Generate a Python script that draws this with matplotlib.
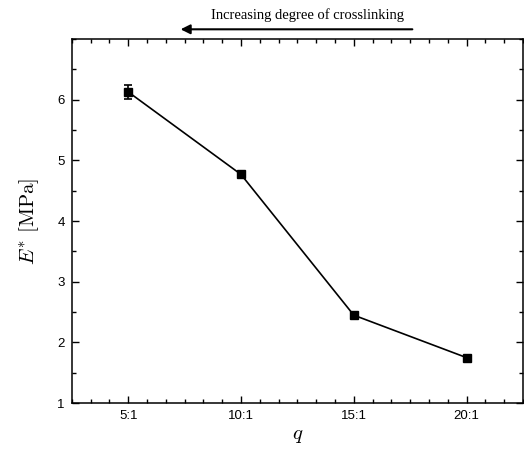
import matplotlib
matplotlib.use("Agg")
import matplotlib.pyplot as plt
from matplotlib.ticker import AutoMinorLocator, MultipleLocator

# data
ratios = ["5:1", "10:1", "15:1", "20:1"]
modulus = [6.13, 4.77, 2.45, 1.75]
modulus_err = [0.11, 0.04, 0.03, 0.03]

plt.rcParams["mathtext.fontset"] = "cm"
plt.rcParams["font.family"] = ["Liberation Sans", "DejaVu Sans"]

fig = plt.figure(figsize=(5.24, 4.55), dpi=100)
ax = fig.add_axes([0.137, 0.114, 0.861, 0.800])

xs = list(range(1, len(ratios) + 1))
ax.errorbar(xs, modulus, yerr=modulus_err, color="black", marker="s", markersize=5.5,
            linewidth=1.2, elinewidth=1.2, capsize=3, capthick=1.2)

ax.set_xlim(0.5, 4.5)
ax.set_ylim(1, 7)
ax.set_xticks(xs)
ax.set_xticklabels(ratios)
ax.set_yticks(range(1, 7))
ax.xaxis.set_minor_locator(AutoMinorLocator(6))
ax.yaxis.set_minor_locator(MultipleLocator(0.5))
ax.tick_params(which="both", direction="in", top=True, right=True, labelsize=9.5, width=1)
ax.tick_params(which="major", length=5, pad=5)
ax.tick_params(which="minor", length=3)
for s in ax.spines.values():
    s.set_linewidth(1.1)

ax.set_xlabel(r"$q$", fontsize=15, labelpad=3)
ax.set_ylabel(r"$E^{*}\ [\mathrm{MPa}]$", fontsize=15, labelpad=12)

# arrow + caption above the frame
ax.annotate("", xy=(0.235, 1.027), xytext=(0.761, 1.027), xycoords="axes fraction",
            annotation_clip=False,
            arrowprops=dict(arrowstyle="-|>", color="black", lw=1.5, mutation_scale=14))
ax.text(0.523, 1.066, "Increasing degree of crosslinking", transform=ax.transAxes,
        ha="center", va="center", fontsize=10.5, family=["Liberation Serif", "DejaVu Serif"])

fig.savefig("out.png", dpi=100)
